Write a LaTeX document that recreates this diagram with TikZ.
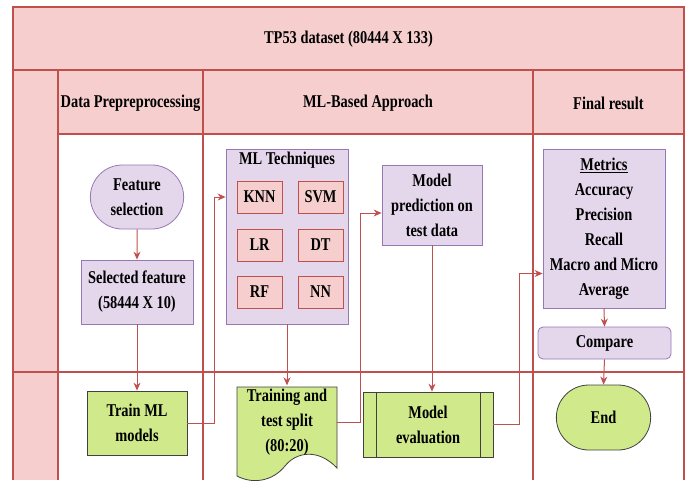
\documentclass[tikz,border=0pt]{standalone}
\usepackage{fontspec}
\setmainfont{Liberation Serif}[FakeStretch=0.8]
\usepackage{xcolor}
\usepackage{tikz}
\usetikzlibrary{shapes.misc, arrows.meta, positioning, calc}

\definecolor{poolpink}{RGB}{246,206,206}
\definecolor{poolline}{RGB}{192,80,77}
\definecolor{lilac}{RGB}{228,215,235}
\definecolor{lilacline}{RGB}{150,120,180}
\definecolor{lime}{RGB}{207,233,139}
\definecolor{limeline}{RGB}{64,64,64}

\begin{document}
\begin{tikzpicture}[x=1pt, y=-1pt,
    font=\fontsize{18}{25}\selectfont\bfseries,
    lane/.style={draw=poolline, line width=1.2pt},
    violetbox/.style={draw=lilacline, fill=lilac, thick, align=center},
    algobox/.style={draw=poolline, fill=poolpink, thick, minimum width=45pt, minimum height=32pt},
    greenbox/.style={draw=limeline, fill=lime, thick, align=center},
    flow/.style={->, >={Stealth[length=8pt, width=7pt]}, draw=poolline, line width=1pt}
]
    \useasboundingbox (0,0) rectangle (690,480);

    % Pool and lanes
    \fill[poolpink] (13,7) rectangle (684,70);
    \fill[poolpink] (58,70) rectangle (684,134);
    \fill[poolpink] (13,70) rectangle (58,480);
    \draw[lane] (13,480) -- (13,7) -- (684,7) -- (684,480);
    \draw[lane] (13,70) -- (684,70);
    \draw[lane] (58,134) -- (684,134);
    \draw[lane] (13,372) -- (684,372);
    \foreach \x in {58, 203, 533} {
        \draw[lane] (\x,70) -- (\x,480);
    }

    \node (pool) at (348.5,39) {TP53 dataset (80444 X 133)};
    \node (prep) at (130.5,103) {Data Prepreprocessing};
    \node (mlhead) at (368,103) {ML-Based Approach};
    \node (final) at (608.5,103) {Final result};

    % Data preprocessing
    \node[violetbox, rounded rectangle, minimum width=100pt, minimum height=64pt] (feat) at (137,197) {Feature\\selection};
    \node[violetbox, minimum width=112pt, minimum height=64pt] (selfeat) at (137,292) {Selected feature\\(58444 X 10)};
    \node[greenbox, minimum width=100pt, minimum height=64pt] (train) at (137,423) {Train ML\\models};

    % ML techniques
    \node[violetbox, minimum width=122pt, minimum height=175pt] (ml) at (287,236.5) {};
    \node[below] (mltitle) at (ml.north) {ML Techniques};
    \foreach \a/\b/\y in {KNN/SVM/197, LR/DT/245, RF/NN/292} {
        \node[algobox] (\a) at (259.5,\y) {\a};
        \node[algobox] (\b) at (320.5,\y) {\b};
    }

    % Training and test split
    \draw[thick, draw=limeline, fill=lime] (237,387) -- (337,387) -- (337,468)
        .. controls (318,448) and (296,452) .. (285,466)
        .. controls (272,482) and (252,484) .. (237,476) -- cycle;
    \node[minimum width=100pt, align=center] (split) at (287,422) {Training and\\test split\\(80:20)};

    % Model prediction and evaluation
    \node[violetbox, minimum width=100pt, minimum height=80pt] (pred) at (432,205) {Model\\prediction on\\test data};
    \node[greenbox, minimum width=130pt, minimum height=65pt] (eval) at (428,424.5) {Model\\evaluation};
    \draw[thick, draw=limeline] ($(eval.north west)+(14,0)$) -- ($(eval.south west)+(14,0)$);
    \draw[thick, draw=limeline] ($(eval.north east)+(-13,0)$) -- ($(eval.south east)+(-13,0)$);

    % Final result
    \node[violetbox, minimum width=122pt, minimum height=159pt] (metrics) at (604,228.5) {\underline{Metrics}\\Accuracy\\Precision\\Recall\\Macro and Micro\\Average};
    \node[violetbox, rounded corners=5pt, minimum width=133pt, minimum height=32pt] (compare) at (604.5,343) {Compare};
    \node[greenbox, rounded rectangle, minimum width=101pt, minimum height=65pt] (end) at (603.5,417.5) {End};

    % Connections
    \draw[flow] (feat) -- (selfeat);
    \draw[flow] (selfeat) -- (train);
    \draw[flow] (train.east) -- ++(27,0) |- (ml.west |- KNN);
    \draw[flow] (ml.south) -- (split.north);
    \draw[flow] (split.east) -- ++(23,0) |- ($(pred.west)+(0,8)$);
    \draw[flow] (pred.south) -- (pred.south |- eval.north);
    \draw[flow] (eval.east) -- ++(26,0) |- ($(metrics.west)+(0,45)$);
    \draw[flow] (metrics.south) -- (compare.north);
    \draw[flow] (compare.south) -- (end.north);
\end{tikzpicture}
\end{document}
